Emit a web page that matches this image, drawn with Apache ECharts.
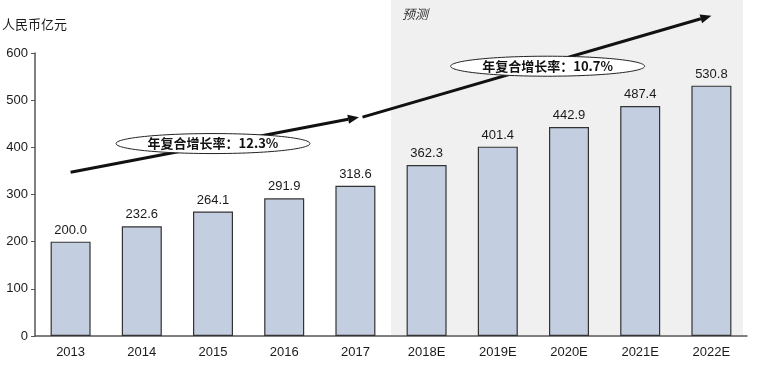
<!DOCTYPE html>
<html><head><meta charset="utf-8">
<script src="https://cdn.jsdelivr.net/npm/echarts@6/dist/echarts.min.js"></script>
<style>html,body{margin:0;padding:0;background:#fff}#c{width:760px;height:370px}</style>
</head><body><div id="c"></div>
<script>
const categories = ['2013','2014','2015','2016','2017','2018E','2019E','2020E','2021E','2022E'];
const values = [200.0, 232.6, 264.1, 291.9, 318.6, 362.3, 401.4, 442.9, 487.4, 530.8];
const yTicks = [0, 100, 200, 300, 400, 500, 600];
const unitLabel = '人民币亿元';
const forecastLabel = '预测';
const forecastStart = '2018E';
const cagrLabels = ['年复合增长率：12.3%', '年复合增长率：10.7%'];
// arrow endpoints in data space: [category index, value]
const arrow1 = [[0, 347], [4.05, 464]];
const arrow2 = [[4.1, 464], [9.0, 679]];
const ellipseCenters = [[2.0, 408], [6.7, 572]];

const chart = echarts.init(document.getElementById('c'));
const font = '"Liberation Sans", Arial, sans-serif';
chart.setOption({
  animation: false,
  grid: { left: 35, right: 13, top: 53, bottom: 34 },
  xAxis: {
    type: 'category', data: categories,
    axisLine: { lineStyle: { color: '#555', width: 1.5 } },
    axisTick: { show: false },
    axisLabel: { color: '#1a1a1a', fontSize: 13, fontFamily: font, margin: 10 }
  },
  yAxis: {
    type: 'value', min: yTicks[0], max: yTicks[yTicks.length - 1], interval: 100,
    axisLine: { show: true, lineStyle: { color: '#555', width: 1.5 } },
    axisTick: { show: true, length: 4, lineStyle: { color: '#555' } },
    splitLine: { show: false },
    axisLabel: { color: '#1a1a1a', fontSize: 13, fontFamily: font, margin: 7 }
  },
  series: [{
    type: 'bar', data: values, barWidth: 40, z: 3,
    itemStyle: { color: '#c4cee1', borderColor: '#333', borderWidth: 1.2 },
    label: { show: true, position: 'top', distance: 5, color: '#1a1a1a', fontSize: 13, fontFamily: font,
      formatter: p => p.value.toFixed(1) }
  }]
});

function px(p) {
  const i0 = Math.floor(p[0]), f = p[0] - i0;
  const a = chart.convertToPixel({ gridIndex: 0 }, [i0, p[1]]);
  const b = chart.convertToPixel({ gridIndex: 0 }, [i0 + 1, p[1]]);
  return [a[0] + (b[0] - a[0]) * f, a[1]];
}
function arrow(seg) {
  const s = px(seg[0]), e = px(seg[1]);
  const ang = Math.atan2(e[1] - s[1], e[0] - s[0]);
  const L = 11, W = 4.5;
  const bx = e[0] - L * Math.cos(ang), by = e[1] - L * Math.sin(ang);
  const nx = -Math.sin(ang) * W, ny = Math.cos(ang) * W;
  return [
    { type: 'line', z: 10, shape: { x1: s[0], y1: s[1], x2: bx, y2: by }, style: { stroke: '#111', lineWidth: 3 } },
    { type: 'polygon', z: 10, shape: { points: [[e[0], e[1]], [bx + nx, by + ny], [bx - nx, by - ny]] }, style: { fill: '#111' } }
  ];
}
const grid = chart.getModel().getComponent('grid').coordinateSystem.getRect();
const fs = chart.convertToPixel({ gridIndex: 0 }, [categories.indexOf(forecastStart) - 1, 0]);
const fe = chart.convertToPixel({ gridIndex: 0 }, [categories.indexOf(forecastStart), 0]);
const gx = (fs[0] + fe[0]) / 2;
const elements = [
  { type: 'rect', z: 0, silent: true, shape: { x: gx, y: 0, width: grid.x + grid.width - 4 - gx, height: grid.y + grid.height - 1 }, style: { fill: '#f0f0f0' } },
  { type: 'text', z: 10, left: 2, top: 18, style: { text: unitLabel, fill: '#1a1a1a', font: '13px "Noto Sans CJK SC", sans-serif' } },
  { type: 'text', z: 10, left: gx + 11, top: 8, style: { text: forecastLabel, fill: '#333', font: 'italic 13px "Noto Sans CJK SC", sans-serif' } }
];
elements.push(...arrow(arrow1), ...arrow(arrow2));
ellipseCenters.forEach((c, i) => {
  const p = px(c);
  elements.push({ type: 'ellipse', z: 11, shape: { cx: p[0], cy: p[1], rx: 97, ry: 10 }, style: { fill: '#fff', stroke: '#222', lineWidth: 1 } });
  elements.push({ type: 'text', z: 12, x: p[0], y: p[1], style: { text: cagrLabels[i], fill: '#111', align: 'center', verticalAlign: 'middle', font: 'bold 13px "Noto Sans CJK SC", sans-serif' } });
});
chart.setOption({ graphic: elements });
</script></body></html>
